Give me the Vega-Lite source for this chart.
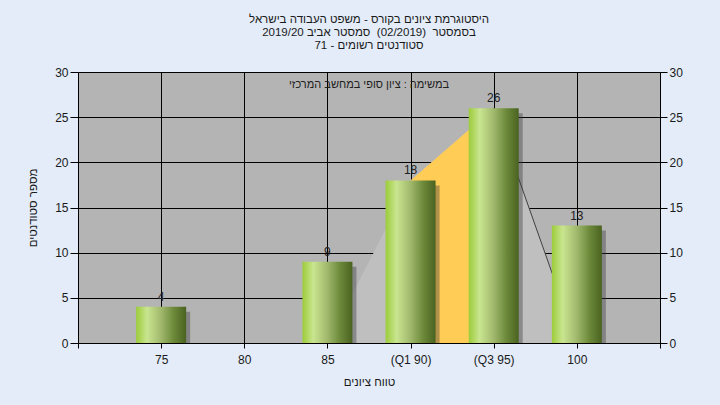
{
  "$schema": "https://vega.github.io/schema/vega-lite/v6.json",
  "width": 582,
  "height": 271,
  "autosize": {"type": "none"},
  "padding": {"left": 78, "top": 72, "right": 60, "bottom": 62},
  "background": "#e3ecf8",
  "title": {
    "text": ["היסטוגרמת ציונים בקורס - משפט העבודה בישראל", "בסמסטר \u00a0(02/2019) \u00a0סמסטר אביב 2019/20", "סטודנטים רשומים - 71"],
    "font": "Liberation Sans",
    "fontSize": 11.5,
    "fontWeight": "normal",
    "color": "#1a1a1a",
    "lineHeight": 13,
    "offset": 15,
    "anchor": "middle",
    "frame": "group"
  },
  "config": {
    "view": {"fill": "#b4b4b4", "stroke": null},
    "font": "Liberation Sans",
    "axis": {
      "labelFont": "Liberation Sans",
      "labelFontSize": 12,
      "labelColor": "#1a1a1a",
      "titleFont": "Liberation Sans",
      "titleFontSize": 11.5,
      "titleFontWeight": "normal",
      "titleColor": "#1a1a1a",
      "domainColor": "#000000",
      "tickColor": "#000000",
      "gridColor": "#000000",
      "gridOpacity": 1,
      "gridWidth": 1
    }
  },
  "datasets": {
    "grades": [
      {"grade": 75, "count": 4},
      {"grade": 80, "count": 0},
      {"grade": 85, "count": 9},
      {"grade": 90, "count": 18},
      {"grade": 95, "count": 26},
      {"grade": 100, "count": 13}
    ],
    "curve": [
      {"grade": 85, "count": 0},
      {"grade": 90, "count": 18},
      {"grade": 95, "count": 26},
      {"grade": 100, "count": 0}
    ],
    "quartile": [
      {"grade": 90, "count": 18},
      {"grade": 95, "count": 26}
    ],
    "edge": [
      {"grade": 95, "count": 26},
      {"grade": 100, "count": 0}
    ],
    "caption": [
      {"grade": 87.5, "count": 28.6, "text": "במשימה : ציון סופי במחשב המרכזי"}
    ]
  },
  "resolve": {"axis": {"y": "independent"}},
  "layer": [
    {
      "data": {"name": "curve"},
      "mark": {"type": "area", "color": "#bfbfbf"},
      "encoding": {
        "x": {
          "field": "grade", "type": "quantitative",
          "scale": {"domain": [70, 105], "nice": false, "zero": false, "padding": 0},
          "axis": {
            "values": [70, 75, 80, 85, 90, 95, 100, 105],
            "labelExpr": "datum.value == 90 ? '(Q1 90)' : datum.value == 95 ? '(Q3 95)' : (datum.value == 70 || datum.value == 105) ? '' : datum.label",
            "grid": true,
            "tickSize": 5,
            "labelPadding": 6,
            "title": "טווח ציונים",
            "titlePadding": 11
          }
        },
        "y": {
          "field": "count", "type": "quantitative",
          "scale": {"domain": [0, 30], "nice": false, "padding": 0},
          "axis": {
            "orient": "left",
            "values": [0, 5, 10, 15, 20, 25, 30],
            "grid": true,
            "tickSize": 8,
            "labelPadding": 2,
            "title": "מספר סטודנטים",
            "titlePadding": 16
          }
        }
      }
    },
    {
      "data": {"name": "quartile"},
      "mark": {"type": "area", "color": "#ffcc55"},
      "encoding": {
        "x": {"field": "grade", "type": "quantitative"},
        "y": {
          "field": "count", "type": "quantitative",
          "axis": {
            "orient": "right",
            "values": [0, 5, 10, 15, 20, 25, 30],
            "grid": false,
            "tickSize": 7,
            "labelPadding": 2,
            "title": null
          }
        }
      }
    },
    {
      "data": {"name": "edge"},
      "mark": {"type": "line", "color": "#404040", "strokeWidth": 1},
      "encoding": {
        "x": {"field": "grade", "type": "quantitative"},
        "y": {"field": "count", "type": "quantitative", "axis": null}
      }
    },
    {
      "data": {"name": "grades"},
      "transform": [{"filter": "datum.count > 0"}],
      "mark": {"type": "bar", "width": 50, "color": "#3a3a3a", "opacity": 0.4, "xOffset": 4, "yOffset": 5, "clip": true},
      "encoding": {
        "x": {"field": "grade", "type": "quantitative"},
        "y": {"field": "count", "type": "quantitative", "axis": null}
      }
    },
    {
      "data": {"name": "grades"},
      "transform": [{"filter": "datum.count > 0"}],
      "mark": {
        "type": "bar",
        "width": 50,
        "color": {
          "gradient": "linear",
          "x1": 0, "y1": 0, "x2": 1, "y2": 0,
          "stops": [
            {"offset": 0, "color": "#9ccc3a"},
            {"offset": 0.22, "color": "#c9e590"},
            {"offset": 0.5, "color": "#a0b86c"},
            {"offset": 0.75, "color": "#6c8a3a"},
            {"offset": 1, "color": "#4a6220"}
          ]
        }
      },
      "encoding": {
        "x": {"field": "grade", "type": "quantitative"},
        "y": {"field": "count", "type": "quantitative", "axis": null}
      }
    },
    {
      "data": {"name": "grades"},
      "transform": [{"filter": "datum.count > 0"}],
      "mark": {"type": "text", "baseline": "bottom", "dy": -3, "fontSize": 12, "color": "#202020", "font": "Liberation Sans"},
      "encoding": {
        "x": {"field": "grade", "type": "quantitative"},
        "y": {"field": "count", "type": "quantitative", "axis": null},
        "text": {"field": "count", "type": "quantitative"}
      }
    },
    {
      "data": {"name": "caption"},
      "mark": {"type": "text", "baseline": "middle", "align": "center", "fontSize": 11, "color": "#202020", "font": "Liberation Sans"},
      "encoding": {
        "x": {"field": "grade", "type": "quantitative"},
        "y": {"field": "count", "type": "quantitative", "axis": null},
        "text": {"field": "text", "type": "nominal"}
      }
    }
  ]
}
